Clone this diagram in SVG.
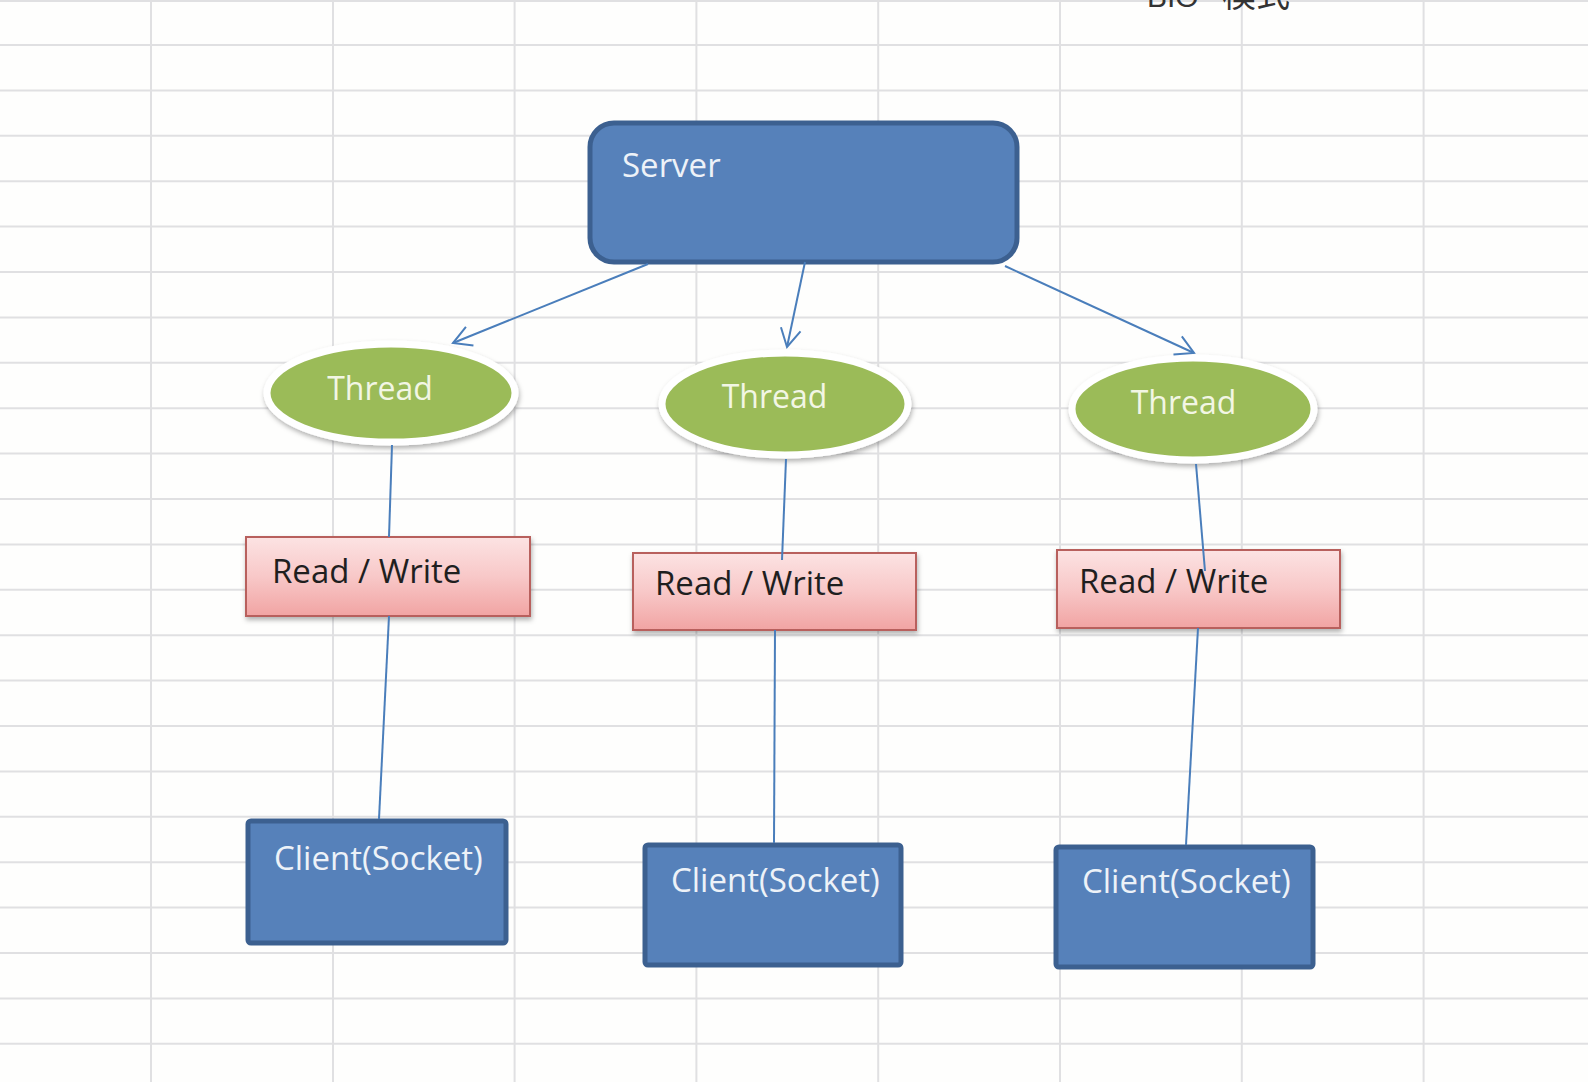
<svg xmlns="http://www.w3.org/2000/svg" width="1588" height="1082" viewBox="0 0 1588 1082">
  <defs>
    <linearGradient id="pink" x1="0" y1="0" x2="0" y2="1">
      <stop offset="0" stop-color="#FCE3E3"/>
      <stop offset="0.5" stop-color="#F8C8C8"/>
      <stop offset="1" stop-color="#F1A4A3"/>
    </linearGradient>
    <filter id="shadow" x="-10%" y="-20%" width="120%" height="150%">
      <feDropShadow dx="1" dy="3" stdDeviation="2.5" flood-color="#000" flood-opacity="0.3"/>
    </filter>
    <marker id="arrow" viewBox="-22 -12 24 24" refX="0" refY="0" markerUnits="userSpaceOnUse" markerWidth="24" markerHeight="24" orient="auto">
      <path d="M-18,-10 L0,0 L-18,10" fill="none" stroke="#4A7EBB" stroke-width="2"/>
    </marker>
  </defs>
  <style>
    .grid line { stroke: #E0E0E2; stroke-width: 2; }
    .blue { fill: #5681BA; stroke: #3C6090; stroke-width: 5; }
    .thread { fill: #9BBB59; stroke: #FFFFFF; stroke-width: 7; filter: url(#shadow); }
    .rw { fill: url(#pink); stroke: #B8605D; stroke-width: 2; filter: url(#shadow); }
    .lt { font-family: "Open Sans", "Noto Sans", sans-serif; font-size: 33px; fill: #EDF2F8; }
    .tt { font-family: "Open Sans", "Noto Sans", sans-serif; font-size: 32px; fill: #F2F6E4; text-anchor: middle; }
    .dt { font-family: "Open Sans", "Noto Sans", sans-serif; font-size: 33px; fill: #1F1F1F; }
    .conn line { stroke: #4A7EBB; stroke-width: 2; fill: none; }
  </style>
  <rect x="0" y="0" width="1588" height="1082" fill="#FEFEFD"/>
  <g class="grid" id="grid">
    <line x1="0" y1="1" x2="1588" y2="1"/>
    <line x1="0" y1="45" x2="1588" y2="45"/>
    <line x1="0" y1="90.4" x2="1588" y2="90.4"/>
    <line x1="0" y1="135.8" x2="1588" y2="135.8"/>
    <line x1="0" y1="181.2" x2="1588" y2="181.2"/>
    <line x1="0" y1="226.6" x2="1588" y2="226.6"/>
    <line x1="0" y1="272" x2="1588" y2="272"/>
    <line x1="0" y1="317.4" x2="1588" y2="317.4"/>
    <line x1="0" y1="362.8" x2="1588" y2="362.8"/>
    <line x1="0" y1="408.2" x2="1588" y2="408.2"/>
    <line x1="0" y1="453.6" x2="1588" y2="453.6"/>
    <line x1="0" y1="499" x2="1588" y2="499"/>
    <line x1="0" y1="544.4" x2="1588" y2="544.4"/>
    <line x1="0" y1="589.8" x2="1588" y2="589.8"/>
    <line x1="0" y1="635.2" x2="1588" y2="635.2"/>
    <line x1="0" y1="680.6" x2="1588" y2="680.6"/>
    <line x1="0" y1="726" x2="1588" y2="726"/>
    <line x1="0" y1="771.4" x2="1588" y2="771.4"/>
    <line x1="0" y1="816.8" x2="1588" y2="816.8"/>
    <line x1="0" y1="862.2" x2="1588" y2="862.2"/>
    <line x1="0" y1="907.6" x2="1588" y2="907.6"/>
    <line x1="0" y1="953" x2="1588" y2="953"/>
    <line x1="0" y1="998.4" x2="1588" y2="998.4"/>
    <line x1="0" y1="1043.8" x2="1588" y2="1043.8"/>
    <line x1="151" y1="0" x2="151" y2="1082"/>
    <line x1="333" y1="0" x2="333" y2="1082"/>
    <line x1="514.6" y1="0" x2="514.6" y2="1082"/>
    <line x1="696.4" y1="0" x2="696.4" y2="1082"/>
    <line x1="878.2" y1="0" x2="878.2" y2="1082"/>
    <line x1="1060" y1="0" x2="1060" y2="1082"/>
    <line x1="1241.8" y1="0" x2="1241.8" y2="1082"/>
    <line x1="1423.6" y1="0" x2="1423.6" y2="1082"/>
  </g>
  <text x="1147" y="7" font-family="Liberation Sans, 'Noto Sans CJK SC', sans-serif" font-size="30" fill="#333333">BIO</text>
  <text x="1222" y="7" font-family="'Noto Sans CJK SC', sans-serif" font-size="34" fill="#333333">模式</text>

  <g id="server">
    <rect class="blue" x="590" y="123" width="427" height="139" rx="24"/>
    <text class="lt" x="622" y="177">Server</text>
  </g>

  <g id="thread1">
    <ellipse class="thread" cx="391" cy="393" rx="124" ry="49"/>
    <text class="tt" x="380" y="400">Thread</text>
  </g>
  <g id="thread2">
    <ellipse class="thread" cx="785" cy="404" rx="123" ry="51"/>
    <text class="tt" x="774.5" y="408">Thread</text>
  </g>
  <g id="thread3">
    <ellipse class="thread" cx="1193" cy="409" rx="121" ry="51"/>
    <text class="tt" x="1183.5" y="414">Thread</text>
  </g>

  <g id="rw1">
    <rect class="rw" x="246" y="537" width="284" height="79"/>
    <text class="dt" x="272" y="583">Read / Write</text>
  </g>
  <g id="rw2">
    <rect class="rw" x="633" y="553" width="283" height="77"/>
    <text class="dt" x="655" y="595">Read / Write</text>
  </g>
  <g id="rw3">
    <rect class="rw" x="1057" y="550" width="283" height="78"/>
    <text class="dt" x="1079" y="593">Read / Write</text>
  </g>

  <g id="client1">
    <rect class="blue" x="248" y="821" width="258" height="122" rx="3"/>
    <text class="lt" x="274" y="870">Client(Socket)</text>
  </g>
  <g id="client2">
    <rect class="blue" x="645" y="845" width="256" height="120" rx="3"/>
    <text class="lt" x="671" y="892">Client(Socket)</text>
  </g>
  <g id="client3">
    <rect class="blue" x="1056" y="847" width="257" height="120" rx="3"/>
    <text class="lt" x="1082" y="893">Client(Socket)</text>
  </g>

  <g class="conn" id="connectors">
    <line x1="648" y1="264" x2="453" y2="343" marker-end="url(#arrow)"/>
    <line x1="805" y1="262" x2="787" y2="347" marker-end="url(#arrow)"/>
    <line x1="1005" y1="266" x2="1194" y2="353" marker-end="url(#arrow)"/>
    <line x1="392" y1="445" x2="389" y2="537"/>
    <line x1="389" y1="616" x2="379" y2="819"/>
    <line x1="786" y1="459" x2="782" y2="560"/>
    <line x1="775" y1="630" x2="774" y2="843"/>
    <line x1="1196" y1="464" x2="1205" y2="571"/>
    <line x1="1198" y1="628" x2="1186" y2="845"/>
  </g>
</svg>
